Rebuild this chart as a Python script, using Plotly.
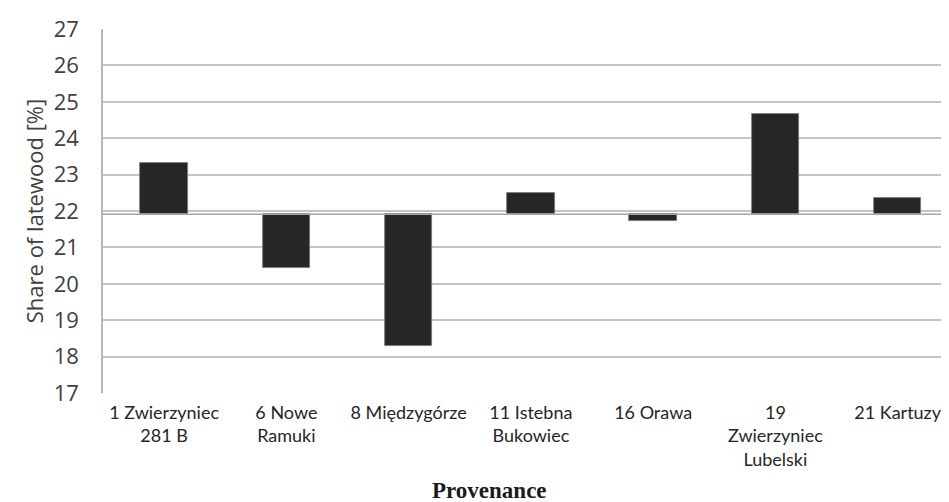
import plotly.graph_objects as go

categories = ["1 Zwierzyniec<br>281 B", "6 Nowe<br>Ramuki", "8 Międzygórze",
              "11 Istebna<br>Bukowiec", "16 Orawa", "19<br>Zwierzyniec<br>Lubelski",
              "21 Kartuzy"]
values = [23.33, 20.43, 18.29, 22.50, 21.73, 24.66, 22.35]
baseline = 21.91
y_ticks = list(range(17, 28))

deltas = [v - baseline for v in values]

fig = go.Figure()
fig.add_trace(go.Bar(
    x=list(range(len(categories))), y=deltas, base=baseline,
    width=0.39,
    marker=dict(color="#262626", line=dict(color="#7a7a7a", width=0.8)),
))

fig.add_shape(type="line", xref="paper", x0=0, x1=1, yref="y", y0=baseline, y1=baseline,
              line=dict(color="#a6a6a6", width=1.5), layer="above")

fig.add_annotation(text="<b>Provenance</b>", xref="paper", yref="paper",
                   x=0.457, y=-0.267, xanchor="center", yanchor="middle", showarrow=False,
                   font=dict(family="Liberation Serif", size=23, color="#1a1a1a"))

fig.update_layout(
    width=941, height=494,
    margin=dict(l=95, r=0, t=21, b=109),
    paper_bgcolor="white", plot_bgcolor="white",
    showlegend=False,
    bargap=0,
    xaxis=dict(
        range=[-0.5, 6.42],
        tickmode="array", tickvals=list(range(len(categories))), ticktext=categories,
        tickfont=dict(family="Lato", size=18, color="#262626"),
        showgrid=False, zeroline=False, showline=False, ticks="",
        ticklabelstandoff=7,
    ),
    yaxis=dict(
        range=[17, 27], tickvals=y_ticks, ticktext=[str(t) for t in y_ticks],
        tickfont=dict(family="Open Sans", size=22, color="#404040"),
        showgrid=True, gridcolor="#c4c4c4", gridwidth=1.5,
        zeroline=False, showline=True, linecolor="#b8b8b8", linewidth=1.5,
        ticks="", ticklabelstandoff=18,
        title=dict(text="Share of latewood [%]", standoff=4,
                   font=dict(family="Open Sans", size=22, color="#404040")),
    ),
)

fig.write_html("out.html")
